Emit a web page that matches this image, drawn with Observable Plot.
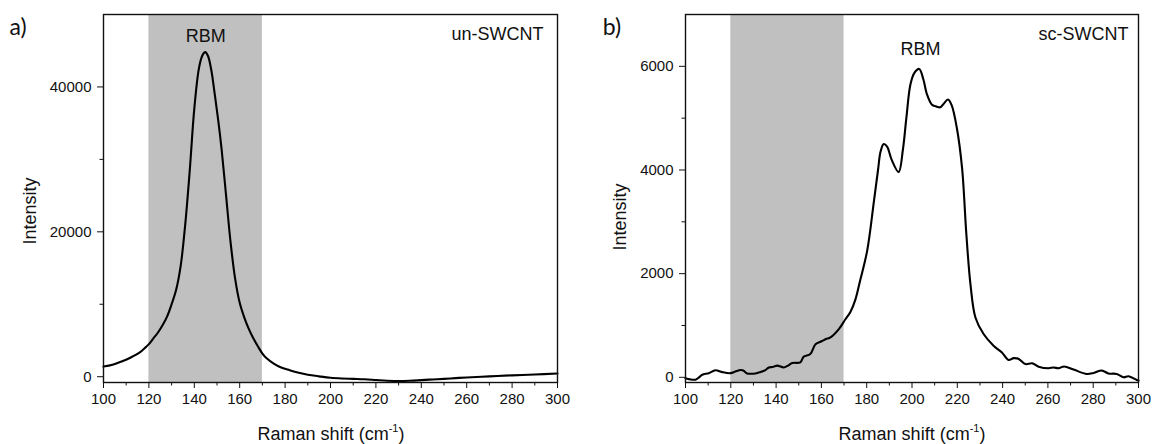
<!DOCTYPE html>
<html><head><meta charset="utf-8">
<script src="https://cdn.jsdelivr.net/npm/d3@7"></script>
<script src="https://cdn.jsdelivr.net/npm/@observablehq/plot@0.6"></script>
<style>
body{margin:0;background:#fff;}
#wrap{display:flex;width:1152px;height:444px;}
svg text{font-family:"Liberation Sans",Arial,sans-serif;}
</style></head><body><div id="wrap"></div>
<script>
// ---- data ----
const shiftA = [100,104,108,112,116,118,120,122,124,126,128,130,132,134,136,138,140,142,143.5,144.8,146,147.5,149,150.5,152,154,156,158,160,162,164,166,168,170,172,175,178,182,186,190,195,200,205,210,215,220,225,230,235,240,245,250,255,260,270,280,290,300];
const intensityA = [1400,1650,2100,2650,3350,3900,4500,5300,6100,7100,8300,10000,12000,15300,21000,28500,37000,42500,44300,44800,44300,42300,39000,35500,31500,25000,18500,13500,10200,8200,6600,5300,4200,3200,2500,1800,1300,900,550,280,50,-150,-250,-300,-350,-450,-550,-600,-560,-470,-380,-300,-200,-100,50,190,300,450];

const shiftB = [100,102,104.4,106,107.4,110.3,113.2,116.2,119.9,122,124.3,125.5,127.2,130.9,133,135.3,136.8,138.5,140.5,143.4,145,147.1,150.7,152.2,155.1,157.4,160.3,162,164,167.7,170.6,172.8,175,177,180.2,183.2,185,186.1,187.5,189,191,194.1,196,197.5,199.3,201,203.2,205,206.6,208.8,210.5,212.5,214,215.9,217.5,219.8,222.1,224,225.8,228,231.6,236,239.7,242.6,244.9,247.1,250,253,255.9,260.3,262.5,264.7,267.2,271.3,277.2,280.2,283.8,286.7,290.4,293.4,295.6,299.2,300];
const intensityB = [-20,-40,-45,0,50,80,135,100,80,110,140,130,75,75,100,140,190,200,225,190,220,275,290,400,450,640,700,740,770,930,1120,1260,1500,1850,2440,3400,4000,4350,4500,4450,4200,3960,4400,5000,5650,5870,5950,5750,5460,5260,5230,5210,5280,5360,5250,4810,4040,2760,1800,1155,835,610,480,335,370,355,255,270,205,175,190,175,210,150,65,85,130,75,65,0,20,-50,-60];

const xMajorTicks = [100,120,140,160,180,200,220,240,260,280,300];
const xMinorTicks = [110,130,150,170,190,210,230,250,270,290];
const yMajorA = [0,20000,40000];
const yMinorA = [10000,30000];
const yMajorB = [0,2000,4000,6000];
const yMinorB = [1000,3000,5000];
const shadedRange = [120,170];
const panelLetters = ["a)","b)"];
const sampleNames = ["un-SWCNT","sc-SWCNT"];
const peakLabel = "RBM";
const xLabel = "Raman shift (cm";
const yLabel = "Intensity";

const seriesA = shiftA.map((x,i)=>({x, y:intensityA[i]}));
const seriesB = shiftB.map((x,i)=>({x, y:intensityB[i]}));

function panel(o){
  const svg = Plot.plot({
    width: 576, height: 444,
    marginLeft: o.ml, marginRight: o.mr, marginTop: 14, marginBottom: 62,
    style: {fontFamily:"Liberation Sans, Arial, sans-serif", fontSize:"15px", color:"#111", background:"#fff"},
    x: {domain:[100,300]},
    y: {domain:o.yDomain},
    marks: [
      Plot.rect([{x1:shadedRange[0], x2:shadedRange[1]}], {x1:"x1", x2:"x2", fill:"#c0c0c0"}),
      Plot.line(o.data, {x:"x", y:"y", stroke:"#000", strokeWidth:2.1, curve:"catmull-rom"}),
      Plot.frame({stroke:"#111", strokeWidth:1.4}),
      Plot.axisX({ticks:xMajorTicks, tickSize:6, tickPadding:5, tickFormat:d=>String(d), label:null, fontSize:15}),
      Plot.axisX({ticks:xMinorTicks, tickSize:3.5, tickFormat:()=>"", label:null}),
      Plot.axisY({ticks:o.yMajor, tickSize:6, tickPadding:6, tickFormat:d=>String(d), label:null, fontSize:15}),
      Plot.axisY({ticks:o.yMinor, tickSize:3.5, tickFormat:()=>"", label:null}),
      Plot.text([{x:o.peakX}], {x:"x", text:()=>peakLabel, frameAnchor:"top", lineAnchor:"bottom", dy:o.peakDy, fontSize:18, fill:"#111"}),
      Plot.text([o.name], {text:d=>d, frameAnchor:"top-right", lineAnchor:"bottom", dx:o.nameDx, dy:25.5, fontSize:18, fill:"#111"})
    ]
  });
  const s = d3.select(svg);
  s.append("text").attr("x", o.letterX).attr("y", 35).attr("font-size", 23)
    .style("font-family","Lato, 'Open Sans', sans-serif").attr("fill","#111").text(o.letter);
  s.append("text").attr("transform", `translate(${o.ylx},${o.yly}) rotate(-90)`)
    .attr("text-anchor","middle").attr("dy","0.35em").attr("font-size",18).attr("fill","#111").text(yLabel);
  const t = s.append("text").attr("x", o.xlx).attr("y", 440).attr("text-anchor","middle")
    .attr("font-size",18).attr("fill","#111");
  t.append("tspan").text(xLabel);
  t.append("tspan").attr("font-size",11).attr("dy",-8).text("-1");
  t.append("tspan").attr("dy",8).text(")");
  return svg;
}

const wrap = document.getElementById("wrap");
wrap.appendChild(panel({data:seriesA, yDomain:[-800,50000], yMajor:yMajorA, yMinor:yMinorA, ml:103, mr:19,
  peakX:145, peakDy:27.5, name:sampleNames[0], nameDx:-14, letter:panelLetters[0], letterX:18,
  ylx:30, yly:211, xlx:331}));
wrap.appendChild(panel({data:seriesB, yDomain:[-100,7000], yMajor:yMajorB, yMinor:yMinorB, ml:109, mr:14,
  peakX:203.7, peakDy:40, name:sampleNames[1], nameDx:-10, letter:panelLetters[1], letterX:36,
  ylx:43.5, yly:217, xlx:336}));
</script></body></html>
